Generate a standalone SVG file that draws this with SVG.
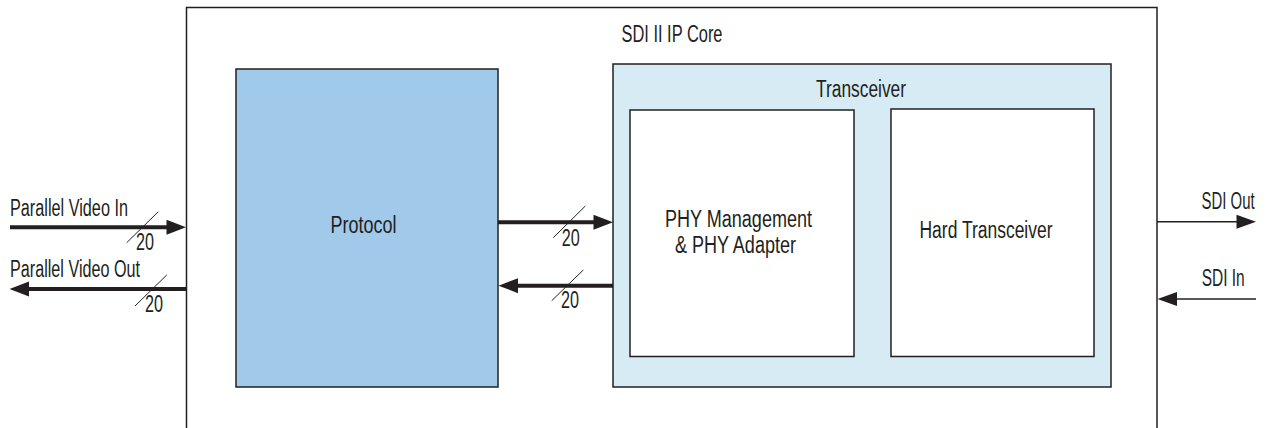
<svg xmlns="http://www.w3.org/2000/svg" width="1267" height="428" viewBox="0 0 1267 428">
<defs>
<style>
text{font-family:"Liberation Sans",Arial,sans-serif;font-size:23px;fill:#231f20}
.box{stroke:#231f20;stroke-width:1.5}
.bus{stroke:#231f20;stroke-width:4;fill:none}
.thin{stroke:#231f20;stroke-width:1.5;fill:none}
.slash{stroke:#231f20;stroke-width:1;fill:none}
.head{fill:#231f20}
</style>
</defs>
<rect width="1267" height="428" fill="#ffffff"/>
<g id="core">
<rect x="186.5" y="7.5" width="970.5" height="440" fill="#ffffff" class="box"/>
<text x="672" y="41.5" text-anchor="middle" textLength="101" lengthAdjust="spacingAndGlyphs">SDI II IP Core</text>
</g>
<g id="protocol">
<rect x="236" y="69" width="262" height="318" fill="#a0c9ea" class="box"/>
<text x="363.5" y="233.3" text-anchor="middle" textLength="66" lengthAdjust="spacingAndGlyphs">Protocol</text>
</g>
<g id="transceiver">
<rect x="613" y="64" width="498" height="323" fill="#d6ebf4" class="box"/>
<text x="861" y="96.5" text-anchor="middle" textLength="90" lengthAdjust="spacingAndGlyphs">Transceiver</text>
</g>
<g id="phy">
<rect x="630" y="110" width="224" height="246.5" fill="#ffffff" class="box"/>
<text x="738.5" y="226.7" text-anchor="middle" textLength="147" lengthAdjust="spacingAndGlyphs">PHY Management</text>
<text x="735.5" y="253.3" text-anchor="middle" textLength="121" lengthAdjust="spacingAndGlyphs">&amp; PHY Adapter</text>
</g>
<g id="hard">
<rect x="891" y="109" width="203" height="247.5" fill="#ffffff" class="box"/>
<text x="986" y="237.7" text-anchor="middle" textLength="133" lengthAdjust="spacingAndGlyphs">Hard Transceiver</text>
</g>
<g id="connectors">
<line x1="10" y1="227.3" x2="168" y2="227.3" class="bus"/>
<polygon points="186,227.3 166.5,219.8 166.5,234.8" class="head"/>
<line x1="126.7" y1="242.7" x2="158.3" y2="211.7" class="slash"/>
<line x1="28" y1="289" x2="186" y2="289" class="bus"/>
<polygon points="9.5,289 29,281.5 29,296.5" class="head"/>
<line x1="135" y1="306" x2="166.7" y2="275" class="slash"/>
<line x1="498" y1="222.3" x2="595" y2="222.3" class="bus"/>
<polygon points="613,222.3 593.5,214.8 593.5,229.8" class="head"/>
<line x1="553.3" y1="237.7" x2="585.3" y2="206" class="slash"/>
<line x1="515" y1="285.7" x2="613" y2="285.7" class="bus"/>
<polygon points="498.5,285.7 518,278.2 518,293.2" class="head"/>
<line x1="551.7" y1="300.7" x2="583.3" y2="270" class="slash"/>
<line x1="1157" y1="221.7" x2="1238" y2="221.7" class="thin"/>
<polygon points="1256,221.7 1236.5,214.7 1236.5,228.7" class="head"/>
<line x1="1175" y1="299" x2="1256" y2="299" class="thin"/>
<polygon points="1157.5,299 1177,292 1177,306" class="head"/>
</g>
<g id="labels">
<text x="10" y="216" textLength="118" lengthAdjust="spacingAndGlyphs">Parallel Video In</text>
<text x="10" y="277.3" textLength="130" lengthAdjust="spacingAndGlyphs">Parallel Video Out</text>
<text x="136" y="250" textLength="18" lengthAdjust="spacingAndGlyphs">20</text>
<text x="145" y="311.7" textLength="18" lengthAdjust="spacingAndGlyphs">20</text>
<text x="561.7" y="245.7" textLength="18" lengthAdjust="spacingAndGlyphs">20</text>
<text x="561" y="308.3" textLength="18" lengthAdjust="spacingAndGlyphs">20</text>
<text transform="translate(1201.5,209.3) scale(0.65,1)" x="0" y="0">SDI Out</text>
<text x="1244.7" y="286" text-anchor="end" textLength="43" lengthAdjust="spacingAndGlyphs">SDI In</text>
</g>
</svg>
